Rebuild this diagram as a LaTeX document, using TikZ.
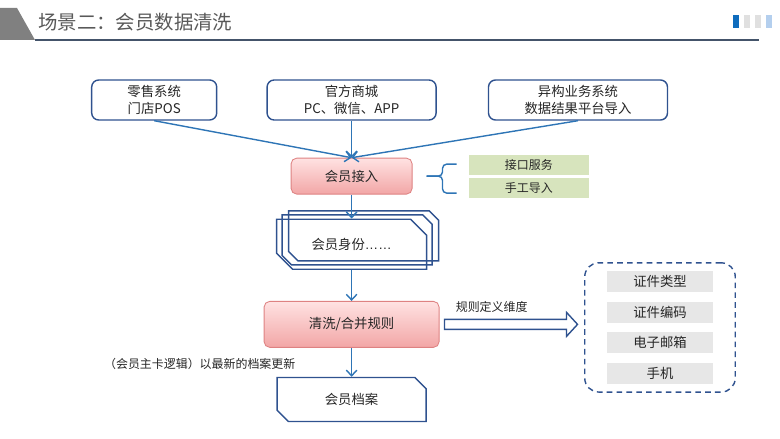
\documentclass[tikz,border=0pt]{standalone}
\usepackage{fontspec}
\setmainfont{Noto Sans CJK SC}
\newfontfamily\latinfont{Liberation Sans}
\usetikzlibrary{arrows.meta,positioning,fit,shapes.misc,calc}
\definecolor{navy}{RGB}{47,82,143}
\definecolor{flowblue}{RGB}{46,117,182}
\definecolor{pinktop}{RGB}{255,226,226}
\definecolor{pinkbot}{RGB}{242,166,166}
\definecolor{pinkline}{RGB}{222,130,130}
\definecolor{tagfill}{RGB}{215,228,189}
\definecolor{dimfill}{RGB}{231,231,231}
\definecolor{headgray}{RGB}{128,128,128}
\definecolor{headline}{RGB}{68,84,106}
\definecolor{titlegray}{RGB}{89,89,89}
\definecolor{txt}{RGB}{38,38,38}
\definecolor{barblue}{RGB}{15,108,189}
\definecolor{bargray}{RGB}{224,224,224}
\definecolor{barlight}{RGB}{180,207,238}

\begin{document}
\begin{tikzpicture}[
  font=\fontsize{9.5}{12}\selectfont, text=txt,
  src/.style={draw=navy,line width=1pt,rounded corners=5pt,fill=white,
    minimum height=1cm,align=center,inner sep=2pt},
  pinkbox/.style={draw=pinkline,line width=0.6pt,rounded corners=4pt,
    top color=pinktop,bottom color=pinkbot,minimum height=0.9cm,align=center},
  idbox/.style={draw=navy,line width=1pt,chamfered rectangle,
    chamfered rectangle corners={north east,south west},
    chamfered rectangle xsep=0.2cm,chamfered rectangle ysep=0.2cm,
    minimum width=3.75cm,minimum height=1.25cm},
  tag/.style={fill=tagfill,minimum width=3cm,minimum height=0.5cm,inner sep=0pt,
    font=\fontsize{8.5}{10}\selectfont},
  dimbox/.style={fill=dimfill,minimum width=2.65cm,minimum height=0.525cm,inner sep=0pt},
  flow/.style={draw=flowblue,line width=1pt,-{Straight Barb[length=4pt,width=7.5pt]}},
  note/.style={font=\fontsize{8.5}{10}\selectfont,inner sep=0pt}]
  \useasboundingbox (0,0) rectangle (19.5,-10.975);
  % header
  \fill[headgray] (0,-0.2) -- (0.425,-0.2) -- (0.875,-1.0) -- (0,-1.0) -- cycle;
  \draw[headline,line width=1pt] (0.875,-1.0) -- (18.975,-1.0);
  \node[anchor=west,text=titlegray,font=\fontsize{13.8}{16}\selectfont,inner sep=0pt]
    (title) at (0.95,-0.55) {场景二：会员数据清洗};
  \foreach \c [count=\i from 0] in {barblue,bargray,bargray,barlight}
    \fill[\c] ({18.325+0.275*\i},-0.375) rectangle ++(0.15,-0.325);
  % sources
  \node[src,minimum width=4.225cm] (gf) at (8.79,-2.5) {官方商城\\PC、微信、APP};
  \node[src,minimum width=3.125cm,left=1.225cm of gf] (ls) {零售系统\\门店POS};
  \node[src,minimum width=4.475cm,right=1.275cm of gf] (yg) {异构业务系统\\数据结果平台导入};
  % main flow
  \node[pinkbox,minimum width=3.025cm,below=0.925cm of gf] (jr) {会员接入};
  \node[tag,right=1.4cm of jr,yshift=0.29cm] (jk) {接口服务};
  \node[tag,below=0.075cm of jk] (sg) {手工导入};
  \node[idbox,below=0.6cm of jr] (sf) {会员身份{\latinfont ……}};
  \node[idbox,xshift=0.14cm,yshift=0.11cm] (sf2) at (sf) {};
  \node[idbox,xshift=0.3cm,yshift=0.21cm] (sf3) at (sf) {};
  \node[pinkbox,minimum width=4.375cm,minimum height=1.15cm,below=0.775cm of sf] (qx) {清洗/合并规则};
  \node[idbox,chamfered rectangle xsep=0.14cm,chamfered rectangle ysep=0.14cm,
    minimum width=3.725cm,minimum height=1.1cm,below=0.725cm of qx] (da) {会员档案};
  \node[note,left=1.4cm of qx.south,yshift=-0.4cm] (zk) {（会员主卡逻辑）以最新的档案更新};
  \draw[flow] (ls.south) -- (jr.north);
  \draw[flow] (gf.south) -- (jr.north);
  \draw[flow] (yg.south) -- (jr.north);
  \draw[flow] (jr.south) -- (sf.north);
  \draw[flow] (sf.south) -- (qx.north);
  \draw[flow] (qx.south) -- (da.north);
  % brace to the two ways in
  \draw[flowblue,line width=1pt,rounded corners=3pt] ($(jr.east)+(1.1,0.3)$) -- ++(-0.35,0)
    -- ++(0,-0.3) -- ++(-0.4,0);
  \draw[flowblue,line width=1pt,rounded corners=3pt] ($(jr.east)+(1.1,-0.425)$) -- ++(-0.35,0)
    -- ++(0,0.425) -- ++(-0.4,0);
  % rule dimensions
  \coordinate (ha) at ($(qx.east)+(0.125,0)$);
  \draw[navy,line width=1pt,fill=white] (ha) ++(0,0.125) -- ++(3.05,0) -- ++(0,0.175)
    -- ++(0.275,-0.3) -- ++(-0.275,-0.3) -- ++(0,0.175) -- ++(-3.05,0) -- cycle;
  \node[note,above right=0.3cm and 0.275cm of ha] (gz) {规则定义维度};
  \node[dimbox] (zl) at (16.5,-7.04) {证件类型};
  \node[dimbox,below=0.225cm of zl] (zb) {证件编码};
  \node[dimbox,below=0.225cm of zb] (yx) {电子邮箱};
  \node[dimbox,below=0.225cm of yx] (sj) {手机};
  \node[draw=navy,line width=1pt,dash pattern=on 4pt off 3pt,rounded corners=10pt,
    inner xsep=0.55cm,inner ysep=0.2cm,fit=(zl)(sj)] (wd) {};
\end{tikzpicture}
\end{document}
